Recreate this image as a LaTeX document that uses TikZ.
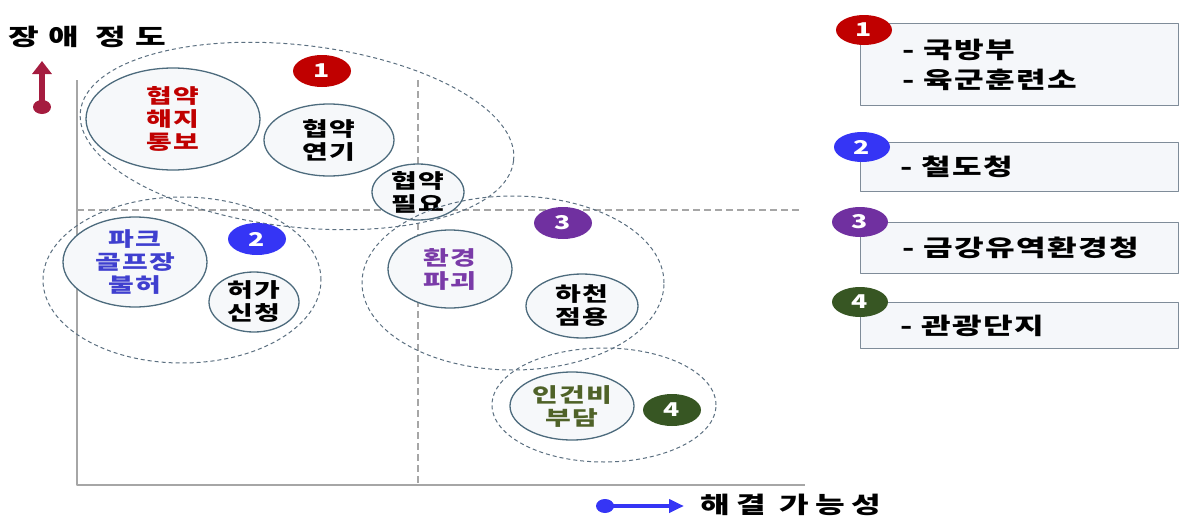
\documentclass[tikz,border=0pt]{standalone}
\usepackage{fontspec}
\setmainfont{Noto Sans CJK KR}[FakeStretch=1.4]
\newfontfamily\krmid{Noto Sans CJK KR}[FakeStretch=1.4,LetterSpace=6]
\newfontfamily\krwide{Noto Sans CJK KR}[FakeStretch=1.4,LetterSpace=28]
\newfontfamily\krtitle{Noto Sans CJK KR}[FakeStretch=1.45,LetterSpace=40]
\usetikzlibrary{shapes.geometric,arrows.meta}
\definecolor{redB}{HTML}{C00000}
\definecolor{blueB}{HTML}{3535F5}
\definecolor{blueT}{HTML}{3F3FCF}
\definecolor{purpB}{HTML}{7030A0}
\definecolor{purpT}{HTML}{7A3BA8}
\definecolor{greenB}{HTML}{375623}
\definecolor{greenT}{HTML}{4F6228}
\definecolor{arrR}{HTML}{A51C3F}
\definecolor{edgec}{HTML}{4D6B7D}
\definecolor{bubc}{HTML}{F6F8FA}
\definecolor{ringc}{HTML}{5B6F80}
\definecolor{axisc}{HTML}{A6A6A6}
\definecolor{boxc}{HTML}{7F8C99}
\definecolor{boxfill}{HTML}{F5F7FA}
\newcommand\krtxt{\krmid\bfseries\fontsize{20}{23}\selectfont}
\newcommand\krnum{\bfseries\fontsize{19}{19}\selectfont}
\newcommand\krleg{\krmid\bfseries\fontsize{23}{30}\selectfont}
\begin{document}
\begin{tikzpicture}[x=1pt,y=-1pt,line join=round,
    bub/.style={ellipse,draw=edgec,fill=bubc,line width=1.3pt,inner sep=-5pt,align=center,font=\krtxt},
    ring/.style={ellipse,draw=ringc,line width=1pt,dash pattern=on 4pt off 3pt,inner sep=0pt},
    badge/.style={ellipse,fill=#1,text=white,inner sep=0pt,minimum width=58pt,minimum height=32pt,font=\krnum},
    legbox/.style={draw=boxc,fill=boxfill,line width=1.2pt,anchor=north west,minimum width=318pt,inner sep=0pt},
    legtxt/.style={anchor=west,align=left,inner sep=0pt,font=\krleg}]
    \useasboundingbox (0,0) rectangle (1179,517);
    \path
    (77,80) coordinate (Y)
    (77,485) coordinate (O)
    (805,485) coordinate (X)
    (418,80) coordinate (V1)
    (418,485) coordinate (V2)
    (77,210) coordinate (H1)
    (800,210) coordinate (H2)
    (42,107) coordinate (Rdot)
    (42,61) coordinate (Rtip)
    (605,506) coordinate (Bdot)
    (684,506) coordinate (Btip)
    ;
    % axes and quadrant lines
    \draw[axisc,line width=2.5pt] (Y) -- (O) -- (X);
    \draw[axisc,line width=1.8pt,dash pattern=on 7pt off 4pt] (V1) -- (V2) (H1) -- (H2);
    \fill[arrR] (Rdot) ellipse (9pt and 7pt);
    \draw[arrR,line width=6pt,-{Triangle[length=13pt,width=19pt]}] (Rdot) -- (Rtip);
    \fill[blueB] (Bdot) ellipse (9pt and 7pt);
    \draw[blueB,line width=4pt,-{Triangle[length=15pt,width=13pt]}] (Bdot) -- (Btip);
    \node[anchor=west,inner sep=0pt,font=\krtitle\bfseries\fontsize{23}{23}\selectfont] (ttl) at (8,37) {장애 정도};
    \node[anchor=west,inner sep=0pt,font=\krwide\bfseries\fontsize{23}{23}\selectfont] (xlab) at (700,505) {해결 가능성};
    % bubbles
    \node[bub,minimum width=174pt,minimum height=102pt,text=redB] (haeji) at (173,119) {협약\\해지\\통보};
    \node[bub,minimum width=130pt,minimum height=72pt] (yeongi) at (329,140) {협약\\연기};
    \node[bub,minimum width=92pt,minimum height=56pt] (pilyo) at (418,192) {협약\\필요};
    \node[bub,minimum width=144pt,minimum height=90pt,text=blueT] (bulheo) at (135,262) {파크\\골프장\\불허};
    \node[bub,minimum width=90pt,minimum height=60pt] (sincheong) at (254,302) {허가\\신청};
    \node[bub,minimum width=124pt,minimum height=78pt,text=purpT] (pagoe) at (450,269) {환경\\파괴};
    \node[bub,minimum width=112pt,minimum height=64pt] (jeomyong) at (582,306) {하천\\점용};
    \node[bub,minimum width=124pt,minimum height=68pt,text=greenT] (budam) at (572,406) {인건비\\부담};
    % groups
    \node[ring,minimum width=436pt,minimum height=182pt,rotate=-6.5] (ring1) at (297,136) {};
    \node[ring,minimum width=278pt,minimum height=166pt] (ring2) at (182,280) {};
    \node[ring,minimum width=302pt,minimum height=174pt] (ring3) at (513,283) {};
    \node[ring,minimum width=224pt,minimum height=114pt] (ring4) at (604,405) {};
    \foreach \n/\c/\x/\y in {1/redB/322/71,2/blueB/257/239,3/purpB/563/223,4/greenB/672/410}
    \node[badge=\c] (b\n) at (\x,\y) {\n};
    % legend
    \foreach \n/\y/\h in {1/23/82,2/142/49,3/222/51,4/302/46}
    \node[legbox,minimum height=\h pt] (L\n) at (860,\y) {};
    \foreach \n/\c/\x/\y in {1/redB/864/30,2/blueB/862/147,3/purpB/860/222,4/greenB/860/302}
    \node[badge=\c,minimum width=56pt,minimum height=30pt] (k\n) at (\x,\y) {\n};
    \node[legtxt] (t1) at ([xshift=42pt]L1.west) {- 국방부\\- 육군훈련소};
    \node[legtxt] (t2) at ([xshift=40pt]L2.west) {- 철도청};
    \node[legtxt] (t3) at ([xshift=42pt]L3.west) {- 금강유역환경청};
    \node[legtxt] (t4) at ([xshift=40pt]L4.west) {- 관광단지};
\end{tikzpicture}
\end{document}
